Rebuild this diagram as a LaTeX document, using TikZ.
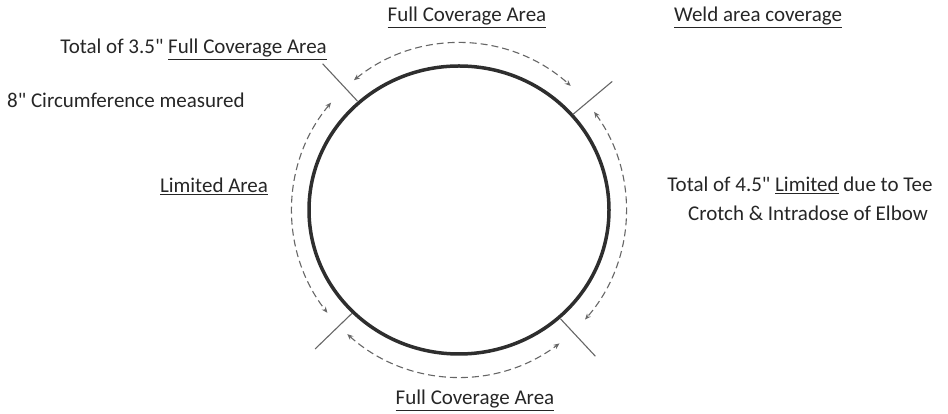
\documentclass[tikz,border=0pt]{standalone}
\usepackage{fontspec}
\setmainfont{Carlito}[Ligatures=TeXOff]
\usetikzlibrary{arrows.meta,positioning}

\begin{document}
\begin{tikzpicture}[
  x=1pt,y=1pt,
  txt/.style={font=\fontsize{21}{26}\selectfont,text=black!85,inner sep=0pt},
  pipe/.style={line width=3.5pt,draw=black!82},
  cut/.style={line width=1.1pt,draw=black!60},
  sweep/.style={dash pattern=on 7pt off 4pt,line width=1.1pt,draw=black!60,
    {Stealth[length=6pt,width=5pt]}-{Stealth[length=6pt,width=5pt]}}
]
\useasboundingbox (0,0) rectangle (948,414);
\coordinate (c) at (459,204);

% pipe section with the four weld quadrant marks
\draw[pipe] (c) ellipse[x radius=150,y radius=144];
\foreach \a in {133,40,-47,224}
  \draw[cut,shift={(c)}] (\a:149) -- (\a:200);

% coverage spans
\foreach \s/\e in {129/48,140/218,228/307,36/-41}
  \draw[sweep,shift={(c)}] (\s:167) arc[start angle=\s,end angle=\e,radius=167];

\node[txt,anchor=base] (topfull) at (467,392) {\underline{Full Coverage Area}};
\node[txt,anchor=base] (weld) at (758,392) {\underline{Weld area coverage}};
\node[txt,anchor=base east] (total35) at (327,360) {Total of 3.5" \underline{Full Coverage Area}};
\node[txt,anchor=base west] (circ) at (7,306) {8" Circumference measured};
\node[txt,anchor=base] (limited) at (214,221) {\underline{Limited Area}};
\node[txt,anchor=base] (tee) at (800,222) {Total of 4.5" \underline{Limited} due to Tee};
\node[txt,anchor=base] (elbow) at (808,193) {Crotch \& Intradose of Elbow};
\node[txt,anchor=base] (botfull) at (475,9) {\underline{Full Coverage Area}};
\end{tikzpicture}
\end{document}
